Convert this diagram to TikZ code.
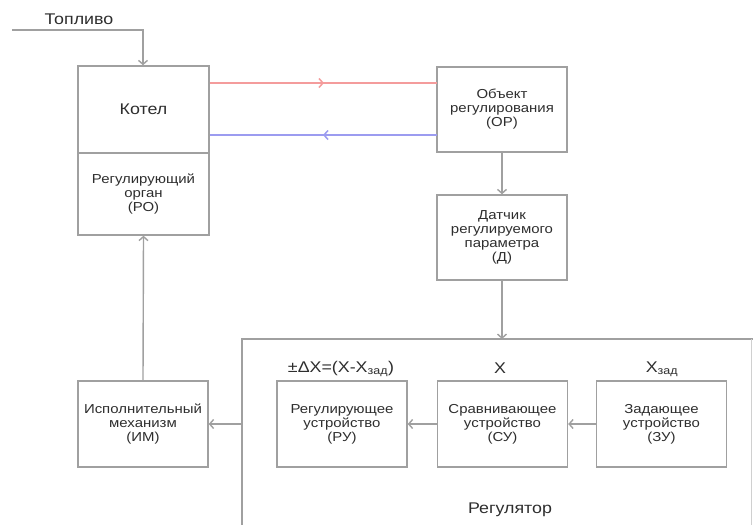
\documentclass[tikz,border=0pt]{standalone}
\usepackage{fontspec}
\setmainfont{Liberation Sans}[FakeStretch=1.15]
\usetikzlibrary{arrows.meta}
\definecolor{lngray}{HTML}{A0A0A0}
\definecolor{txgray}{HTML}{2E2E2E}
\definecolor{flowred}{HTML}{F49C9C}
\definecolor{flowblue}{HTML}{9C9CF0}
\tikzset{
  blk/.style={draw=lngray, line width=1.4pt, minimum width=130pt, minimum height=86pt, inner sep=0pt,
    align=center, text=txgray, font=\fontsize{13}{14}\selectfont},
  con/.style={draw=lngray, line width=1.4pt, -{Straight Barb[length=4pt,width=9pt]}},
  flow/.style={line width=1.5pt, -{Straight Barb[length=4pt,width=9pt]}},
  big/.style={text=txgray, font=\fontsize{15.5}{17}\selectfont, inner sep=0pt},
}
\begin{document}
\begin{tikzpicture}[x=1pt,y=-1pt]
\useasboundingbox (0,0) rectangle (753,525);
\fill[white] (0,0) rectangle (753,525);
% regulator frame
\begin{scope}
\clip (0,0) rectangle (753,525);
\draw[lngray, line width=1.4pt] (242,540) -- (242,339) -- (760,339);
\draw[lngray!50, line width=1pt] (751,339) -- (751,540);
\end{scope}
\coordinate (regL) at (242,424);
\coordinate (regT) at (502,339);
% boiler
\node[blk, minimum width=131pt, minimum height=87pt, font=\fontsize{15.5}{17}\selectfont] (kotel) at (143.5,109.5) {Котел};
\node[blk, minimum width=131pt, minimum height=82pt] (ro) at (143.5,194) {Регулирующий\\орган\\(РО)};
\node[blk, minimum height=85pt] (op) at (502,109.5) {Объект\\регулирования\\(ОР)};
\node[blk, minimum height=85pt] (d) at (502,237.5) {Датчик\\регулируемого\\параметра\\(Д)};
\node[blk] (im) at (143,424) {Исполнительный\\механизм\\(ИМ)};
\node[blk] (ru) at (342,424) {Регулирующее\\устройство\\(РУ)};
\node[blk] (su) at (502.5,424) {Сравнивающее\\устройство\\(СУ)};
\node[blk] (zu) at (661.5,424) {Задающее\\устройство\\(ЗУ)};
% labels
\node[big] (topl) at (79,19) {Топливо};
\node[big] (dx) at (341,369) {±ΔX=(X-X\textsubscript{зад})};
\node[big] (xl) at (500,368) {X};
\node[big] (xz) at (662,369) {X\textsubscript{зад}};
\node[big] (reg) at (510,510) {Регулятор};
% fuel
\coordinate (f0) at (12,30);
\draw[con] (f0) -- (143,30) -- (kotel.north -| 143,30);
% red and blue flows
\coordinate (r1) at (209.5,83);
\coordinate (r2) at (437,83);
\coordinate (rm) at (324,83);
\coordinate (b1) at (437,135);
\coordinate (b2) at (209.5,135);
\coordinate (bm) at (323,135);
\draw[flowred, line width=1.5pt] (r1) -- (r2);
\draw[flowred, flow] (r1) -- (rm);
\draw[flowblue, line width=1.5pt] (b1) -- (b2);
\draw[flowblue, flow] (b1) -- (bm);
% signal path
\draw[con] (op.south) -- (d.north);
\draw[con] (d.south) -- (regT);
\draw[con] (zu.west) -- (su.east);
\draw[con] (su.west) -- (ru.east);
\draw[con] (regL) -- (im.east);
\draw[con] (im.north) -- (ro.south);
\end{tikzpicture}
\end{document}
